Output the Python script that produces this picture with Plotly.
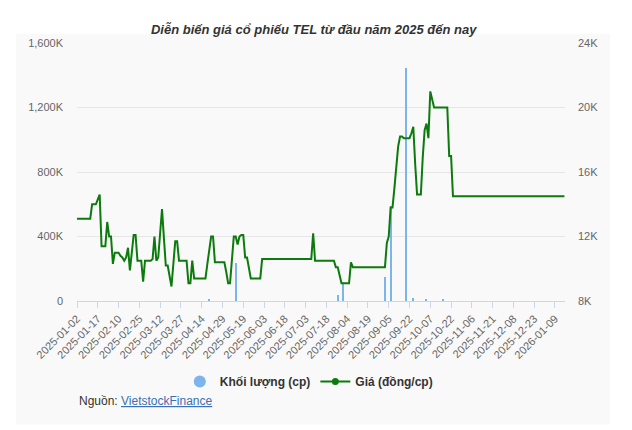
import datetime as dt
import plotly.graph_objects as go

# ---------------- data ----------------
holidays = ["2025-01-01", "2025-01-27", "2025-01-28", "2025-01-29", "2025-01-30", "2025-01-31",
            "2025-04-07", "2025-04-30", "2025-05-01", "2025-05-02", "2025-09-01", "2025-09-02",
            "2026-01-01", "2026-01-02"]
first_day = "2025-01-02"
last_day = "2026-01-16"

tick_labels = ["2025-01-02", "2025-01-17", "2025-02-10", "2025-02-25", "2025-03-12", "2025-03-27",
               "2025-04-14", "2025-04-29", "2025-05-19", "2025-06-03", "2025-06-18", "2025-07-03",
               "2025-07-18", "2025-08-04", "2025-08-19", "2025-09-05", "2025-09-22", "2025-10-07",
               "2025-10-22", "2025-11-06", "2025-11-21", "2025-12-08", "2025-12-23", "2026-01-09"]

# closing price, thousand VND (one value per trading day)
price_k = [
    13.1, 13.1, 13.1, 13.1, 13.1, 13.1, 13.1, 13.1, 14.0, 14.0,
    14.0, 14.3, 14.6, 11.4, 11.4, 11.4, 12.9, 12.0, 12.0, 10.3,
    11.0, 11.0, 11.0, 10.8, 10.7, 10.5, 10.7, 11.3, 9.9, 11.0,
    12.1, 12.1, 10.5, 10.5, 10.5, 9.2, 10.5, 10.5, 10.5, 10.5,
    10.6, 12.0, 10.5, 10.7, 12.2, 13.7, 11.9, 10.2, 10.2, 9.5,
    8.9, 10.3, 11.7, 11.7, 10.5, 10.5, 10.5, 10.5, 10.5, 9.1,
    9.1, 10.5, 9.4, 9.4, 9.4, 9.4, 9.4, 9.4, 9.4, 10.3,
    11.1, 12.0, 12.0, 10.4, 10.4, 10.4, 10.4, 10.4, 10.4, 9.8,
    9.1, 9.1, 10.5, 12.0, 12.0, 11.5, 12.0, 12.1, 12.1, 10.7,
    10.7, 10.0, 9.4, 9.4, 9.4, 9.4, 9.4, 9.4, 10.6, 10.6,
    10.6, 10.6, 10.6, 10.6, 10.6, 10.6, 10.6, 10.6, 10.6, 10.6,
    10.6, 10.6, 10.6, 10.6, 10.6, 10.6, 10.6, 10.6, 10.6, 10.6,
    10.6, 10.6, 10.6, 10.6, 10.6, 12.2, 10.5, 10.5, 10.5, 10.5,
    10.5, 10.5, 10.5, 10.5, 10.5, 10.5, 10.5, 10.1, 10.1, 9.6,
    9.1, 9.1, 9.1, 9.1, 9.1, 10.4, 10.1, 10.1, 10.1, 10.1,
    10.1, 10.1, 10.1, 10.1, 10.1, 10.1, 10.1, 10.1, 10.1, 10.1,
    10.1, 10.1, 10.1, 10.1, 11.6, 12.0, 13.8, 13.8, 15.0, 16.3,
    17.6, 18.2, 18.2, 18.1, 18.1, 18.1, 18.1, 18.4, 18.8, 16.5,
    14.6, 14.6, 14.6, 16.9, 18.6, 19.0, 18.1, 21.0, 20.4, 20.0,
    20.0, 20.0, 20.0, 20.0, 20.0, 20.0, 20.0, 17.0, 17.0, 14.5,
    14.5, 14.5, 14.5, 14.5, 14.5, 14.5, 14.5, 14.5, 14.5, 14.5,
    14.5, 14.5, 14.5, 14.5, 14.5, 14.5, 14.5, 14.5, 14.5, 14.5,
    14.5, 14.5, 14.5, 14.5, 14.5, 14.5, 14.5, 14.5, 14.5, 14.5,
    14.5, 14.5, 14.5, 14.5, 14.5, 14.5, 14.5, 14.5, 14.5, 14.5,
    14.5, 14.5, 14.5, 14.5, 14.5, 14.5, 14.5, 14.5, 14.5, 14.5,
    14.5, 14.5, 14.5, 14.5, 14.5, 14.5, 14.5, 14.5, 14.5,
]

# trading days with non-zero matched volume (shares)
volume_dates = ["2025-04-18", "2025-05-13", "2025-07-28", "2025-07-31", "2025-09-03",
                "2025-09-08", "2025-09-18", "2025-09-24", "2025-10-03", "2025-10-16"]
volume_values = [10000, 233000, 36000, 108000, 150000, 590000, 1445000, 20000, 15000, 15000]

vol_tickvals = [0, 400000, 800000, 1200000, 1600000]
vol_ticktext = ["0", "400K", "800K", "1,200K", "1,600K"]
price_tickvals = [8, 12, 16, 20, 24]
price_ticktext = ["8K", "12K", "16K", "20K", "24K"]

# ---------------- trading calendar (categories) ----------------
hol = set(holidays)
d = dt.date.fromisoformat(first_day)
end = dt.date.fromisoformat(last_day)
dates = []
while d <= end:
    if d.weekday() < 5 and d.isoformat() not in hol:
        dates.append(d.isoformat())
    d += dt.timedelta(days=1)

GREEN = "#0c7a0c"
BLUE = "#7cb5ec"
FONT = "Liberation Sans, Arial, sans-serif"

fig = go.Figure()
fig.add_trace(go.Bar(x=volume_dates, y=volume_values, marker=dict(color=BLUE, line=dict(width=0)),
                     width=0.6, showlegend=False, name="Khối lượng (cp)"))
fig.add_trace(go.Scatter(x=dates, y=price_k, mode="lines", line=dict(color=GREEN, width=2),
                         yaxis="y2", showlegend=False, name="Giá (đồng/cp)"))
# legend entries
fig.add_trace(go.Scatter(x=[None], y=[None], mode="markers", name="Khối lượng (cp)",
                         marker=dict(symbol="circle", size=12, color=BLUE)))
fig.add_trace(go.Scatter(x=[None], y=[None], mode="lines+markers", name="Giá (đồng/cp)",
                         line=dict(color=GREEN, width=2), marker=dict(size=7, color=GREEN),
                         yaxis="y2"))

n = len(dates)
fig.update_layout(
    width=632, height=430,
    margin=dict(l=77, r=67, t=43, b=129),
    paper_bgcolor="white", plot_bgcolor="rgba(0,0,0,0)",
    font=dict(family=FONT, size=11, color="#666666"),
    title=dict(text="<b><i>Diễn biến giá cổ phiếu TEL từ đầu năm 2025 đến nay</i></b>",
               x=0.485, xref="paper", xanchor="center", y=1 - 29 / 430, yanchor="middle",
               font=dict(family=FONT, size=13, color="#333333")),
    xaxis=dict(type="category", categoryorder="array", categoryarray=dates,
               range=[0, n - 0.7], tickmode="array", tickvals=tick_labels, ticktext=tick_labels,
               tickangle=-45, showgrid=False, showline=True, linecolor="#ccd6eb", linewidth=1,
               ticks="outside", ticklen=6, tickcolor="#ccd6eb",
               tickfont=dict(size=11, color="#666666")),
    yaxis=dict(range=[0, 1600000], tickvals=vol_tickvals, ticktext=vol_ticktext,
               showgrid=True, gridcolor="#e6e6e6", gridwidth=1, zeroline=False,
               ticklabelstandoff=13, tickfont=dict(size=11, color="#666666")),
    yaxis2=dict(range=[8, 24], tickvals=price_tickvals, ticktext=price_ticktext,
                overlaying="y", side="right", showgrid=False, zeroline=False,
                ticklabelstandoff=12, tickfont=dict(size=11, color="#666666")),
    legend=dict(orientation="h", x=0.475, xanchor="center", y=(300.7 - 381) / 257.4, yanchor="middle",
                font=dict(size=12, color="#333333", weight="bold"), bgcolor="rgba(0,0,0,0)",
                itemwidth=30),
    bargap=0,
    shapes=[dict(type="rect", xref="paper", yref="paper", layer="below",
                 x0=(16 - 77) / 488, x1=(610 - 77) / 488,
                 y0=(300.7 - 424) / 257.4, y1=(300.7 - 34) / 257.4,
                 fillcolor="#f9f9f9", line=dict(width=0))],
    annotations=[dict(xref="paper", yref="paper", x=0, y=(300.7 - 400) / 257.4,
                      xanchor="left", yanchor="middle", showarrow=False,
                      text="Nguồn: <span style='color:#3c6fb4'><u>VietstockFinance</u></span>",
                      font=dict(size=12, color="#333333"))],
)

fig.write_html("out.html")
